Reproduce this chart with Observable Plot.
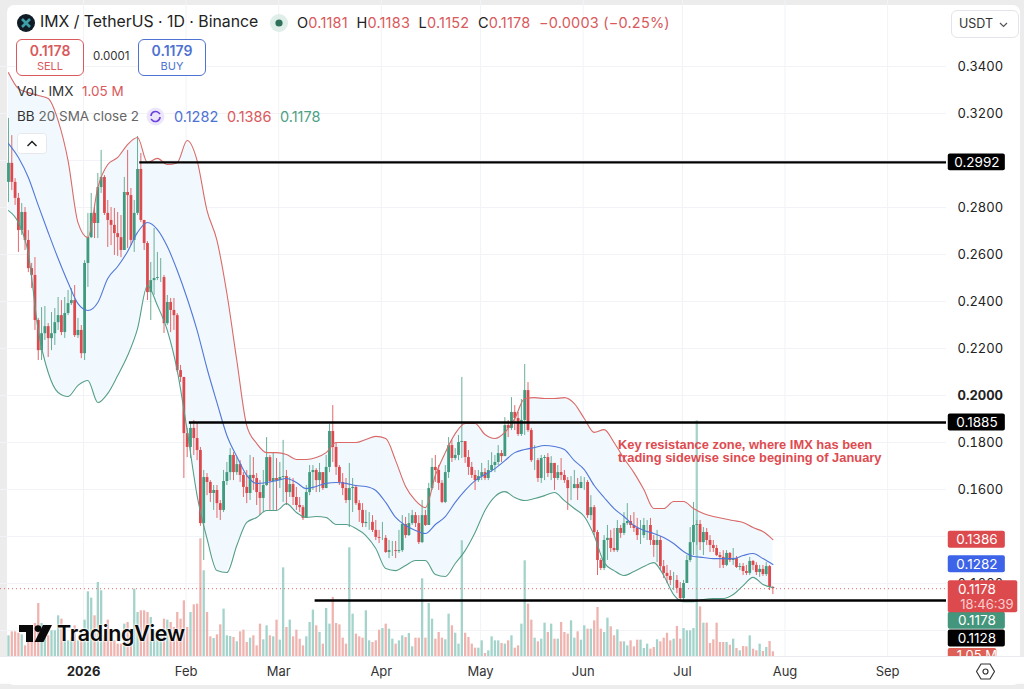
<!DOCTYPE html>
<html><head><meta charset="utf-8">
<script src="https://cdn.jsdelivr.net/npm/d3@7"></script>
<script src="https://cdn.jsdelivr.net/npm/@observablehq/plot@0.6"></script>
<style>
html,body{margin:0;padding:0;background:#ececec;width:1024px;height:689px;overflow:hidden;font-family:Inter,"Noto Sans",sans-serif;color:#131722}
#card{position:absolute;left:7px;top:5px;width:1013px;height:680px;background:#fff;border-radius:7px}
#chart{position:absolute;left:0;top:0;width:1024px;height:689px}
#chart svg{display:block;overflow:visible}
.t{position:absolute;white-space:nowrap;line-height:1}
.box{position:absolute;top:39px;width:66px;height:33px;border-radius:6px;background:#fff;text-align:center;font-weight:600;font-size:14px;padding-top:2px}
.box small{display:block;font-weight:400;font-size:11px;margin-top:0;line-height:12px}
.box b{font-weight:600;display:block;line-height:18px}
.red{color:#d9595c}.blue{color:#4e72d1}.green{color:#4e9f85}
</style></head><body>
<div id="card"></div>
<div id="chart"></div>
<svg style="position:absolute;left:16px;top:13px" width="20" height="20"><circle cx="10" cy="10" r="9" fill="#0f1c26"/><path d="M6 6l8 8M14 6l-8 8" stroke="#3e9fa8" stroke-width="2.6"/></svg>
<div class="t" style="left:40px;top:14px;font-size:15.800px;color:#222">IMX / TetherUS · 1D · Binance</div>
<svg style="position:absolute;left:269px;top:13px" width="20" height="20"><circle cx="10" cy="10" r="9" fill="#dfeee9"/><circle cx="10" cy="10" r="3.6" fill="#2f6f5b"/></svg>
<div class="t" style="left:297px;top:16px;font-size:14.5px;letter-spacing:.2px;color:#d9595c"><span style="color:#222">O</span>0.1181&nbsp; <span style="color:#222">H</span>0.1183&nbsp; <span style="color:#222">L</span>0.1152&nbsp; <span style="color:#222">C</span>0.1178&nbsp; −0.0003 (−0.25%)</div>
<div class="box red" style="left:16px;border:1px solid #d9595c"><b>0.1178</b><small>SELL</small></div>
<div class="t" style="left:93px;top:51px;font-size:11.5px;color:#333">0.0001</div>
<div class="box blue" style="left:138px;border:1px solid #4e72d1"><b>0.1179</b><small>BUY</small></div>
<div class="t" style="left:17px;top:85px;font-size:13.5px;color:#333">Vol · IMX</div>
<div class="t red" style="left:82px;top:85px;font-size:13.5px">1.05 M</div>
<div class="t" style="left:17px;top:110px;font-size:13.5px;color:#666"><span style="color:#333">BB</span> 20 SMA close 2</div>
<svg style="position:absolute;left:146px;top:107px" width="19" height="19"><circle cx="9.5" cy="9.5" r="9" fill="#ece6fb"/><path d="M5 9a4.6 4.6 0 0 1 8-3l1 1M14 10a4.6 4.6 0 0 1-8 3l-1-1" fill="none" stroke="#6a3fdc" stroke-width="1.6"/></svg>
<div class="t blue" style="left:174px;top:110px;font-size:14.5px">0.1282</div>
<div class="t red" style="left:227px;top:110px;font-size:14.5px">0.1386</div>
<div class="t green" style="left:280px;top:110px;font-size:14.5px">0.1178</div>
<svg style="position:absolute;left:17px;top:133px" width="30" height="21"><rect x=".5" y=".5" width="29" height="20" rx="3" fill="#fff" stroke="#e6e8ee"/><path d="M10.5 13l4.5-4.5 4.5 4.5" fill="none" stroke="#222" stroke-width="1.5"/></svg>
<div style="position:absolute;left:951px;top:10px;width:66px;height:26px;border:1px solid #e3e5ea;border-radius:6px;background:#fff;font-size:12.5px;line-height:26px;text-indent:7px;color:#333">USDT <svg width="9" height="6" style="margin-left:2px"><path d="M1 1l3.5 3.5L8 1" fill="none" stroke="#555" stroke-width="1.2"/></svg></div>
<svg style="position:absolute;left:19px;top:625px" width="33" height="18"><path d="M0 0h14v17H7V7H0z" fill="#0a0a0a"/><circle cx="19" cy="3.6" r="3.4" fill="#0a0a0a"/><path d="M24 0h9l-8.5 17H15.5z" fill="#0a0a0a"/></svg>
<div class="t" style="left:57px;top:623px;font-size:21.5px;font-weight:600;color:#0a0a0a;letter-spacing:-.3px;text-shadow:0 0 2px #fff,0 0 2px #fff,0 0 3px #fff">TradingView</div>
<svg style="position:absolute;left:976px;top:662px" width="19" height="19"><path d="M5 2h9l4.5 7.5L14 17H5L.5 9.500z" fill="#fff" stroke="#333" stroke-width="1.2"/><circle cx="9.500" cy="9.500" r="2.500" fill="none" stroke="#333" stroke-width="1.2"/></svg>
<script>
const closes=[.2988,.2907,.2839,.2702,.2779,.2660,.2540,.2511,.2319,.2191,.2263,.2293,.2242,.2263,.2310,.2340,.2268,.2349,.2391,.2404,.2255,.2277,.2178,.2562,.2672,.2775,.2732,.2885,.2928,.2775,.2745,.2724,.2689,.2672,.2617,.2864,.2851,.2660,.2775,.2962,.2745,.2647,.2438,.2489,.2498,.2502,.2502,.2306,.2396,.2362,.2340,.2106,.2077,.1838,.1779,.1860,.1817,.1766,.1455,.1651,.1630,.1583,.1596,.1540,.1511,.1634,.1672,.1745,.1672,.1706,.1660,.1609,.1583,.1660,.1647,.1587,.1562,.1617,.1736,.1634,.1647,.1638,.1651,.1655,.1587,.1621,.1566,.1532,.1523,.1477,.1587,.1672,.1681,.1638,.1672,.1604,.1694,.1847,.1779,.1694,.1630,.1604,.1553,.1604,.1609,.1540,.1511,.1455,.1460,.1460,.1426,.1396,.1392,.1392,.1332,.1340,.1340,.1336,.1340,.1451,.1404,.1455,.1489,.1455,.1374,.1489,.1447,.1604,.1694,.1681,.1626,.1545,.1672,.1787,.1732,.1745,.1800,.1804,.1736,.1694,.1660,.1638,.1655,.1672,.1647,.1681,.1702,.1715,.1753,.1740,.1872,.1860,.1928,.1902,.1834,.1894,.2021,.1851,.1723,.1723,.1647,.1732,.1736,.1668,.1711,.1647,.1672,.1660,.1638,.1604,.1604,.1621,.1604,.1630,.1630,.1489,.1523,.1417,.1298,.1264,.1383,.1392,.1349,.1340,.1434,.1413,.1455,.1464,.1447,.1434,.1404,.1404,.1447,.1447,.1383,.1362,.1383,.1272,.1243,.1230,.1213,.1213,.1179,.1136,.1200,.1298,.1374,.1447,.1451,.1374,.1417,.1383,.1362,.1349,.1319,.1311,.1277,.1328,.1298,.1306,.1268,.1272,.1251,.1243,.1294,.1277,.1247,.1260,.1238,.1272,.1183,.1178];
const highs=[.3179,.3106,.2923,.2860,.2817,.2800,.2702,.2562,.2587,.2328,.2374,.2379,.2306,.2353,.2370,.2417,.2404,.2417,.2447,.2455,.2468,.2328,.2298,.2574,.2775,.2860,.2809,.2945,.3043,.2936,.2830,.2800,.2796,.2779,.2766,.2928,.3043,.2881,.2830,.3102,.3030,.2745,.2655,.2566,.2711,.2609,.2583,.2511,.2426,.2413,.2413,.2349,.2128,.2077,.1860,.1885,.1894,.1881,.1779,.1681,.1668,.1638,.1617,.1617,.1553,.1681,.1715,.1774,.1757,.1736,.1723,.1672,.1681,.1745,.1736,.1668,.1638,.1681,.1821,.1745,.1757,.1732,.1715,.1809,.1681,.1651,.1647,.1609,.1566,.1532,.1617,.1702,.1702,.1689,.1711,.1660,.1745,.1877,.1957,.1800,.1702,.1668,.1647,.1711,.1647,.1617,.1553,.1540,.1511,.1502,.1489,.1468,.1426,.1460,.1404,.1383,.1379,.1379,.1426,.1489,.1481,.1498,.1511,.1502,.1489,.1553,.1511,.1626,.1732,.1745,.1702,.1638,.1702,.1821,.1809,.1774,.1830,.2077,.1796,.1766,.1715,.1681,.1681,.1711,.1689,.1723,.1757,.1745,.1787,.1766,.1906,.1894,.1991,.1957,.1928,.1983,.2132,.2055,.1860,.1787,.1732,.1745,.1745,.1753,.1740,.1711,.1702,.1732,.1681,.1651,.1655,.1681,.1647,.1655,.1651,.1638,.1574,.1532,.1426,.1306,.1404,.1447,.1426,.1434,.1468,.1447,.1502,.1540,.1489,.1502,.1477,.1468,.1477,.1468,.1477,.1404,.1426,.1400,.1298,.1277,.1255,.1247,.1234,.1204,.1213,.1319,.1438,.1545,.1468,.1468,.1438,.1434,.1404,.1383,.1362,.1332,.1340,.1340,.1332,.1349,.1315,.1285,.1285,.1277,.1311,.1298,.1289,.1277,.1277,.1289,.1277,.1187];
const lows=[.2821,.2872,.2809,.2609,.2681,.2617,.2523,.2455,.2277,.2149,.2149,.2234,.2162,.2191,.2213,.2277,.2255,.2243,.2340,.2383,.2247,.2243,.2157,.2149,.2460,.2668,.2668,.2668,.2860,.2766,.2630,.2638,.2596,.2592,.2587,.2617,.2626,.2638,.2609,.2766,.2736,.2617,.2404,.2319,.2426,.2489,.2481,.2264,.2298,.2268,.2277,.2098,.2055,.1647,.1736,.1732,.1745,.1723,.1443,.1298,.1574,.1545,.1511,.1477,.1468,.1502,.1617,.1638,.1638,.1660,.1630,.1566,.1540,.1553,.1596,.1532,.1489,.1502,.1613,.1511,.1511,.1511,.1604,.1545,.1532,.1566,.1532,.1511,.1502,.1468,.1481,.1574,.1596,.1587,.1587,.1596,.1638,.1672,.1715,.1660,.1617,.1574,.1540,.1438,.1502,.1532,.1460,.1438,.1438,.1426,.1417,.1383,.1370,.1383,.1328,.1306,.1315,.1306,.1328,.1332,.1392,.1400,.1447,.1438,.1366,.1370,.1443,.1447,.1596,.1630,.1596,.1540,.1540,.1647,.1715,.1723,.1723,.1732,.1711,.1660,.1647,.1596,.1630,.1638,.1638,.1638,.1672,.1672,.1702,.1715,.1745,.1821,.1851,.1851,.1826,.1826,.1830,.1843,.1715,.1681,.1630,.1626,.1638,.1651,.1638,.1596,.1638,.1638,.1626,.1511,.1553,.1604,.1553,.1604,.1596,.1477,.1468,.1404,.1234,.1255,.1255,.1298,.1332,.1332,.1332,.1392,.1404,.1447,.1434,.1417,.1383,.1366,.1392,.1383,.1362,.1311,.1289,.1255,.1221,.1200,.1191,.1170,.1157,.1128,.1128,.1200,.1289,.1319,.1362,.1340,.1319,.1362,.1332,.1332,.1315,.1264,.1264,.1272,.1289,.1277,.1264,.1255,.1234,.1234,.1234,.1255,.1234,.1226,.1230,.1230,.1170,.1153];
const volumes=[4.62,5.51,5.51,5.2,4.84,2.38,3.5,5,7.38,11.85,7.38,5.36,4.62,5.74,5.74,9.09,8.34,5.36,3.5,4.25,6.85,3.5,3.5,8.12,14.45,13.04,9.09,16.54,14.68,4.62,8.12,3.5,3.5,2.76,2.76,7.23,7.6,5,15.05,9.83,10.21,10.21,9.83,8.72,5.74,4.25,5.36,8.34,8.12,7.6,6.48,9.83,8.34,12.44,6.48,9.83,11.55,11.7,26.3,19.15,9.83,4.4,4.02,4.84,7.08,10.58,4.62,4.47,4.25,3.28,5.51,5.89,3.13,4.1,4.62,2.38,7.23,3.73,6.85,4.62,4.4,8.12,3.65,19.8,6.48,8.12,4.4,5.89,3.87,2.38,4.4,7.6,10.36,6.85,5.36,2.76,10.73,7.23,13.19,7.38,7.08,4.1,2.76,24.28,9.46,5,4.4,4.1,10.21,3.5,3.13,3.5,5.89,6.26,7.23,6.11,3.87,2.76,3.5,4.62,4.25,5.14,2.16,4.1,4.1,17.36,4.1,11.85,8.34,3.87,5.36,4.1,3.73,9.46,6.85,5.2,2.76,25.85,5.2,4.25,2.76,1.86,1.86,3.5,.67,1.27,4.4,3.5,3.5,2.91,2.76,3.5,4.62,1.86,2.38,7.23,21.38,11.7,8.12,4.1,3.28,3.87,7.45,5.36,7.23,3.87,3.87,7.6,5.36,5,7.97,4.1,5.51,3.65,6.85,6.11,6.11,7.97,10.95,6.11,5.36,8.57,6.63,4.62,5.96,3.28,3.28,2.38,3.5,2.16,3.65,3.65,1.79,2.76,1.64,2.01,3.73,3.28,4.1,5.2,3.5,3.87,6.7,3.87,6.26,5.74,5.74,6.26,52.66,11.1,7.45,7.45,2.91,3.73,7.45,3.13,3.13,3.13,2.53,3.87,1.79,1.27,2.24,2.16,4.62,1.64,1.27,2.76,1.12,2.01,3.35,1.05];
const bbUpper=[.3374,.3306,.3289,.3277,.3264,.3170,.3000,.2736,.2672,.2885,.2983,.3013,.3068,.3098,.2991,.3009,.2983,.2991,.3085,.3000,.2787,.2660,.2434,.2149,.1872,.1796,.1757,.1757,.1749,.1728,.1728,.1736,.1757,.1800,.1800,.1800,.1813,.1826,.1817,.1723,.1613,.1553,.1523,.1660,.1757,.1838,.1881,.1881,.1834,.1817,.1843,.1902,.1987,.1991,.1987,.1987,.1991,.1966,.1902,.1843,.1855,.1800,.1732,.1672,.1600,.1519,.1519,.1549,.1549,.1519,.1498,.1485,.1477,.1468,.1460,.1438,.1421,.1387];
const bbBasis=[.3072,.3013,.2928,.2809,.2694,.2583,.2481,.2391,.2362,.2396,.2498,.2549,.2613,.2694,.2736,.2706,.2634,.2532,.2413,.2277,.2115,.1970,.1830,.1740,.1660,.1626,.1630,.1638,.1647,.1630,.1604,.1613,.1626,.1630,.1626,.1617,.1613,.1596,.1545,.1481,.1447,.1426,.1413,.1451,.1485,.1545,.1596,.1638,.1664,.1689,.1723,.1757,.1770,.1779,.1787,.1783,.1770,.1723,.1685,.1617,.1566,.1519,.1485,.1447,.1426,.1413,.1396,.1370,.1336,.1315,.1311,.1306,.1306,.1306,.1319,.1328,.1306,.1281];
const bbLower=[.2787,.2736,.2604,.2277,.2098,.2013,.1996,.2043,.2064,.1970,.2009,.2085,.2170,.2285,.2468,.2383,.2277,.2106,.1851,.1574,.1391,.1255,.1247,.1362,.1460,.1481,.1511,.1511,.1540,.1502,.1481,.1485,.1481,.1451,.1451,.1434,.1404,.1349,.1264,.1255,.1277,.1298,.1298,.1238,.1230,.1285,.1340,.1417,.1511,.1570,.1591,.1566,.1553,.1562,.1574,.1587,.1553,.1519,.1485,.1404,.1289,.1255,.1234,.1251,.1272,.1289,.1234,.1153,.1123,.1123,.1132,.1136,.1136,.1153,.1191,.1226,.1196,.1183];
const monthTicks=["2026-02-01","2026-03-01","2026-04-01","2026-05-01","2026-06-01","2026-07-01","2026-08-01","2026-09-01"].map(d=>new Date(d+"T00:00Z"));
const yearTicks=[new Date("2026-01-01T00:00Z")];
const priceTicks=[.12,.16,.18,.22,.24,.26,.28,.32,.34];
const levels=[{price:.2992,from:"2026-01-18"},{price:.1885,from:"2026-02-02"},{price:.1128,from:"2026-03-12"}];
const tagLabels=["0.2992","0.1885","0.1386","0.1282","0.1178","0.1128"];
const tagPrices=[.2992,.1885,.1386,.1282,.1178,.1128];
const tagFills=["#000","#000","#dc4a4e","#3d64e8","#43957c","#000"];
const tagShifts=[0,0,0,0,32,38];
const priceNow=.1178, volumeNowLabel="1.05 M", countdown="18:46:39";
const notes="Key resistance zone, where IMX has been\ntrading sidewise since begining of January";

const start=new Date("2025-12-09T08:00Z");
const candles=closes.map((c,i)=>{const o=i?closes[i-1]:.2907;return{date:d3.utcDay.offset(start,i),o,c,h:highs[i],l:lows[i],v:volumes[i],up:c>=o}});
const bands=bbBasis.map((m,k)=>({date:candles[k*3].date,m,u:bbUpper[k],d:bbLower[k]}));
const xDomain=[new Date("2025-12-06T22:05Z"),new Date("2026-09-18T19:12Z")];
const yDomain=[.08894,.3681];
const volY=d3.scaleLinear().domain([0,52.66]).range([yDomain[0],yDomain[0]+.1003]);
const red="#dd4a4e",green="#3f9a7e";
const tagX1=new Date("2026-09-19T08:00Z"),tagX2=new Date("2026-10-06T14:00Z"),tagX3=new Date("2026-10-10T08:00Z"),tagMid=new Date("2026-09-28T00:00Z"),tagMid2=new Date("2026-10-01T00:00Z");
const H=.0036;
const tagMarks=tagLabels.flatMap((s,i)=>[
  Plot.rect([0],{x1:tagX1,x2:tagX2,y1:tagPrices[i]-H,y2:tagPrices[i]+H,fill:tagFills[i],rx:2,dy:tagShifts[i]}),
  Plot.text([s],{x:tagMid,y:tagPrices[i],text:d=>d,fill:"#fff",fontSize:13.5,dy:tagShifts[i]})
]);
const plot=Plot.plot({
  width:1024,height:689,marginLeft:0,marginRight:78,marginTop:0,marginBottom:33,
  style:{background:"transparent",fontFamily:"Inter, sans-serif",overflow:"visible"},
  x:{type:"utc",domain:xDomain,label:null},
  y:{domain:yDomain,label:null},
  marks:[
    Plot.gridX(monthTicks.concat(yearTicks),{stroke:"#f1f3f7",strokeOpacity:1}),
    Plot.gridY([.1,.12,.14,.16,.18,.2,.22,.24,.26,.28,.3,.32,.34],{stroke:"#f1f3f7",strokeOpacity:1}),
    Plot.areaY(bands,{x:"date",y1:"d",y2:"u",fill:"#f0f8fe",fillOpacity:.9}),
    Plot.ruleX(candles,{filter:d=>!d.up,x:"date",y1:yDomain[0],y2:d=>volY(d.v),stroke:"#efb4af",strokeWidth:2.3}),
    Plot.ruleX(candles,{filter:d=>d.up,x:"date",y1:yDomain[0],y2:d=>volY(d.v),stroke:"#a3d3ca",strokeWidth:2.3}),
    Plot.ruleY([priceNow],{stroke:"#dd6a6e",strokeWidth:1,strokeDasharray:"1 3",x1:xDomain[0],x2:xDomain[1]}),
    Plot.ruleX(candles,{filter:d=>d.up,x:"date",y1:"l",y2:"h",stroke:"#6aae98",strokeWidth:1}),
    Plot.ruleX(candles,{filter:d=>!d.up,x:"date",y1:"l",y2:"h",stroke:"#e2686b",strokeWidth:1}),
    Plot.ruleX(candles,{filter:d=>d.up,x:"date",y1:"o",y2:"c",stroke:green,strokeWidth:2.8}),
    Plot.ruleX(candles,{filter:d=>!d.up,x:"date",y1:"o",y2:"c",stroke:red,strokeWidth:2.8}),
    Plot.line(bands,{x:"date",y:"u",stroke:"#d96a68",strokeWidth:1.1,curve:"monotone-x"}),
    Plot.line(bands,{x:"date",y:"m",stroke:"#5277d8",strokeWidth:1.1,curve:"monotone-x"}),
    Plot.line(bands,{x:"date",y:"d",stroke:"#559e88",strokeWidth:1.1,curve:"monotone-x"}),
    Plot.ruleY(levels,{y:"price",x1:d=>new Date(d.from+"T00:00Z"),x2:xDomain[1],stroke:"#000",strokeWidth:2.4}),
    Plot.text([notes],{x:new Date("2026-06-11T12:00Z"),y:.1787,text:d=>d,textAnchor:"start",fill:"#de4b50",fontSize:12.9,fontWeight:700,fontFamily:"Liberation Sans, sans-serif",lineHeight:1,lineAnchor:"middle",dy:6}),
    Plot.axisY({anchor:"right",ticks:priceTicks,tickSize:0,tickPadding:11,tickFormat:d3.format(".4f"),label:null,fontSize:13,fill:"#222"}),
    Plot.axisY({anchor:"right",ticks:[.2],tickSize:0,tickPadding:11,tickFormat:d3.format(".4f"),label:null,fontSize:13,fontWeight:700,fill:"#222"}),
    ...tagMarks,
    Plot.rect([0],{x1:tagX1,x2:tagX3,y1:priceNow-.0068,y2:priceNow+.0068,fill:"#dd4a4e",rx:2,dy:8}),
    Plot.text(["0.1178"],{x:tagMid,y:priceNow,text:d=>d,fill:"#fff",fontSize:13.5,dy:1}),
    Plot.text([countdown],{x:tagMid2,y:priceNow,text:d=>d,fill:"#f7cdcd",fontSize:13,dy:16}),
    Plot.rect([0],{x1:tagX1,x2:new Date("2026-10-04T00:00Z"),y1:yDomain[0]-.004,y2:yDomain[0]+.0034,fill:"#dd5f55",rx:2}),
    Plot.text([volumeNowLabel],{x:tagMid,y:yDomain[0],text:d=>d,fill:"#fff",fontSize:13,dy:-1}),
    Plot.rect([0],{x1:xDomain[0],x2:new Date("2026-10-17T00:00Z"),y1:yDomain[0]-.0118,y2:yDomain[0],fill:"#fff"}),
    Plot.ruleY([yDomain[0]],{stroke:"#e9ebf0",x1:xDomain[0],x2:new Date("2026-10-13T00:00Z")}),
    Plot.axisX({ticks:monthTicks,tickSize:0,tickPadding:10,tickFormat:d3.utcFormat("%b"),label:null,fontSize:13,fill:"#333"}),
    Plot.axisX({ticks:yearTicks,tickSize:0,tickPadding:10,tickFormat:d3.utcFormat("%Y"),label:null,fontSize:13,fontWeight:700,fill:"#222"})
  ]
});
document.getElementById("chart").appendChild(plot);
</script>
</body></html>
